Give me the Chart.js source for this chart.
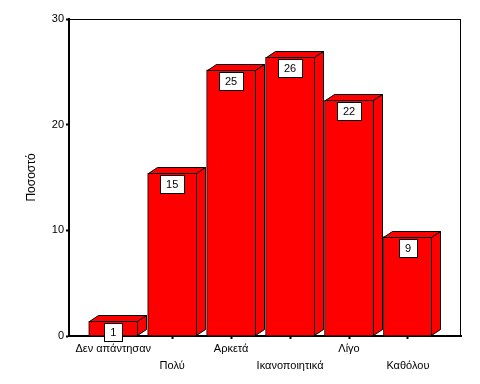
<!DOCTYPE html>
<html>
<head>
<meta charset="utf-8">
<script src="https://cdn.jsdelivr.net/npm/chart.js@4"></script>
<style>
  html, body { margin: 0; padding: 0; background: #fff; }
  #wrap { width: 480px; height: 384px; }
</style>
</head>
<body>
<div id="wrap"><canvas id="chart" width="480" height="384"></canvas></div>
<script>
const categories = ["Δεν απάντησαν", "Πολύ", "Αρκετά", "Ικανοποιητικά", "Λίγο", "Καθόλου"];
const percentValues = [1.4, 15.4, 25.2, 26.4, 22.3, 9.4];
const valueLabels = ["1", "15", "25", "26", "22", "9"];
const yTicks = [0, 10, 20, 30];

const FONT = "Arial, 'Liberation Sans', sans-serif";
const depthX = 9;
const depthY = 6;

const frame = {
  id: "frame",
  beforeDatasetsDraw(chart) {
    const { ctx, chartArea } = chart;
    ctx.save();
    ctx.strokeStyle = "#000";
    ctx.lineWidth = 1;
    ctx.strokeRect(
      Math.round(chartArea.left) + 0.5,
      Math.round(chartArea.top) + 0.5,
      Math.round(chartArea.right - chartArea.left) - 1,
      Math.round(chartArea.bottom - chartArea.top)
    );
    ctx.restore();
  },
};

const bar3d = {
  id: "bar3d",
  afterDatasetsDraw(chart) {
    const ctx = chart.ctx;
    const meta = chart.getDatasetMeta(0);
    meta.data.forEach((bar, i) => {
      const { x, y, base, width } = bar.getProps(["x", "y", "base", "width"], true);
      const x1 = Math.round(x - width / 2) + 0.5;
      const x2 = Math.round(x + width / 2) - 0.5;
      const top = Math.round(y) + 0.5;
      const bot = Math.round(base) - 0.5;
      ctx.save();
      ctx.fillStyle = "#ff0000";
      ctx.strokeStyle = "#000";
      ctx.lineWidth = 1;

      // top face
      ctx.beginPath();
      ctx.moveTo(x1, top);
      ctx.lineTo(x1 + depthX, top - depthY);
      ctx.lineTo(x2 + depthX, top - depthY);
      ctx.lineTo(x2, top);
      ctx.closePath();
      ctx.fill();
      ctx.stroke();

      // side face
      ctx.beginPath();
      ctx.moveTo(x2, top);
      ctx.lineTo(x2 + depthX, top - depthY);
      ctx.lineTo(x2 + depthX, bot - depthY);
      ctx.lineTo(x2, bot);
      ctx.closePath();
      ctx.fill();
      ctx.stroke();

      // value label box
      const label = valueLabels[i];
      ctx.font = "11px " + FONT;
      const tw = ctx.measureText(label).width;
      const bw = Math.round(tw + 12);
      const bh = 18;
      const bx = Math.round(x - bw / 2) + 0.5;
      const by = top + 2;
      ctx.fillStyle = "#fff";
      ctx.fillRect(bx, by, bw, bh);
      ctx.strokeRect(bx, by, bw, bh);
      ctx.fillStyle = "#000";
      ctx.textAlign = "center";
      ctx.textBaseline = "middle";
      ctx.fillText(label, x, by + bh / 2 + 0.5);
      ctx.restore();
    });
  },
};

new Chart(document.getElementById("chart").getContext("2d"), {
  type: "bar",
  data: {
    datasets: [
      {
        data: categories.map((c, i) => ({ x: i, y: percentValues[i] })),
        backgroundColor: "#ff0000",
        borderColor: "#000",
        borderWidth: 1,
        borderSkipped: "bottom",
        barThickness: 49,
      },
    ],
  },
  options: {
    responsive: false,
    animation: false,
    layout: { padding: { left: 24, right: 19, top: 19, bottom: 0 } },
    plugins: {
      legend: { display: false },
      tooltip: { enabled: false },
    },
    scales: {
      x: {
        type: "linear",
        offset: false,
        min: -0.75,
        max: 5.9,
        afterFit: (scale) => { scale.height = 48; },
        border: { display: true, color: "#000", width: 2 },
        grid: {
          offset: false,
          drawOnChartArea: false,
          drawTicks: true,
          tickLength: 3,
          tickWidth: 2,
          tickColor: "#000",
        },
        ticks: {
          stepSize: 1,
          includeBounds: false,
          autoSkip: false,
          maxRotation: 0,
          padding: 1,
          color: "#000",
          font: { family: FONT, size: 11, lineHeight: 1.55 },
          callback: (v) => {
            if (!Number.isInteger(v) || v < 0 || v >= categories.length) return "";
            return v % 2 === 0 ? [categories[v]] : ["", categories[v]];
          },
        },
      },
      y: {
        min: 0,
        max: 30,
        afterFit: (scale) => { scale.width = 45; },
        afterBuildTicks: (scale) => { scale.ticks = yTicks.map((v) => ({ value: v })); },
        border: { display: true, color: "#000", width: 2 },
        grid: {
          drawOnChartArea: false,
          drawTicks: true,
          tickLength: 3,
          tickWidth: 2,
          tickColor: "#000",
        },
        ticks: {
          padding: 2,
          color: "#000",
          font: { family: FONT, size: 11 },
        },
        title: {
          display: true,
          text: "Ποσοστό",
          color: "#000",
          padding: 0,
          font: { family: FONT, size: 12 },
        },
      },
    },
  },
  plugins: [frame, bar3d],
});
</script>
</body>
</html>
